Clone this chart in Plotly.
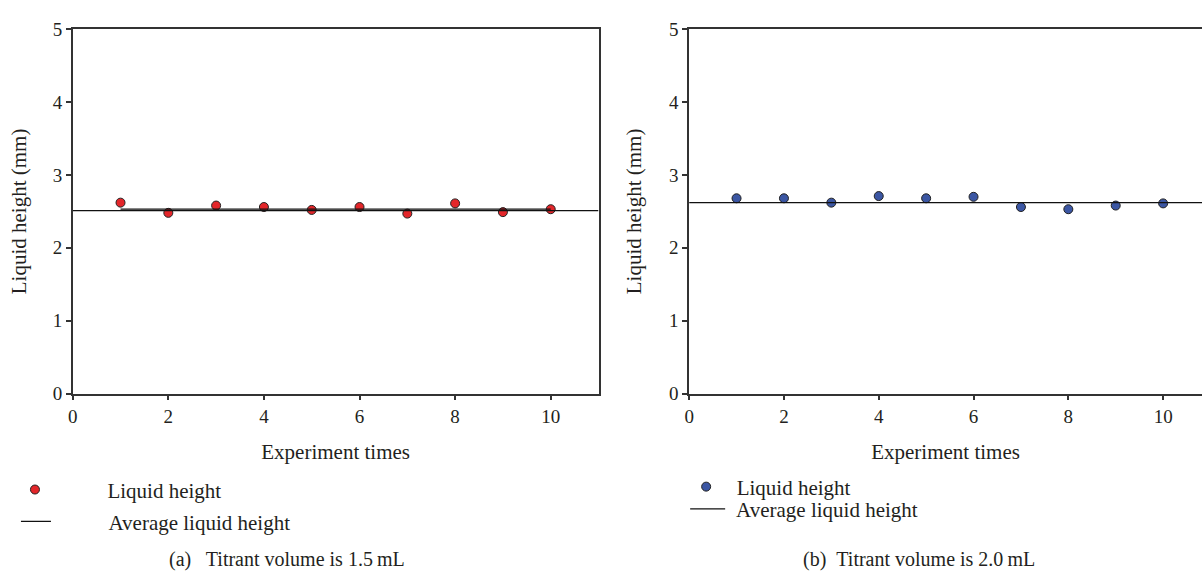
import plotly.graph_objects as go

# Repeated measurements of liquid height for two titrant volumes
trials = [1, 2, 3, 4, 5, 6, 7, 8, 9, 10]
height_15 = [2.62, 2.48, 2.58, 2.56, 2.52, 2.56, 2.47, 2.61, 2.49, 2.53]
height_20 = [2.68, 2.68, 2.62, 2.71, 2.68, 2.70, 2.56, 2.53, 2.58, 2.61]
avg_15 = 2.51
avg_15_fit = 2.53
avg_20 = 2.62

x_range_a = [0, 11]
x_range_b = [0, 10.82]
y_range = [0, 5]
x_ticks = [0, 2, 4, 6, 8, 10]
y_ticks = [0, 1, 2, 3, 4, 5]

series_name = "Liquid height"
average_name = "Average liquid height"
captions = ["(a)\u2002 Titrant volume is 1.5\u2009mL", "(b)\u2002Titrant volume is 2.0\u2009mL"]

FONT = "Liberation Serif"
TXT = "#231f20"
AX = "#333333"
RED = "#e3262a"
BLUE = "#3b56a3"

W, H = 1202, 577


def px(x):
    return x / W


def py(y):
    return 1 - y / H


# text gap between legend symbol and label
PAD_A = "\u2003\u2003\u2002"
PAD_B1 = "\u2002"
PAD_B2 = "\u2009\u200a"

fig = go.Figure()

# panel (a)
fig.add_trace(go.Scatter(
    x=trials, y=height_15, mode="markers", name=PAD_A + series_name,
    marker=dict(color=RED, size=9, line=dict(color="#222222", width=1)),
    xaxis="x", yaxis="y", legend="legend"))
fig.add_trace(go.Scatter(
    x=x_range_a, y=[avg_15, avg_15], mode="lines", name=PAD_A + average_name,
    line=dict(color="#111111", width=1.2),
    xaxis="x", yaxis="y", legend="legend2"))
fig.add_trace(go.Scatter(
    x=[min(trials), max(trials)], y=[avg_15_fit, avg_15_fit], mode="lines",
    line=dict(color="#111111", width=1.2), showlegend=False,
    xaxis="x", yaxis="y"))

# panel (b)
fig.add_trace(go.Scatter(
    x=trials, y=height_20, mode="markers", name=PAD_B1 + series_name,
    marker=dict(color=BLUE, size=9, line=dict(color="#222222", width=1)),
    xaxis="x2", yaxis="y2", legend="legend3"))
fig.add_trace(go.Scatter(
    x=x_range_b, y=[avg_20, avg_20], mode="lines", name=PAD_B2 + average_name,
    line=dict(color="#111111", width=1.2),
    xaxis="x2", yaxis="y2", legend="legend4"))

axis_common = dict(
    showgrid=False, zeroline=False, showline=True, linecolor=AX, linewidth=1.5,
    ticks="outside", ticklen=5, tickwidth=1.5, tickcolor=AX,
    tickfont=dict(family=FONT, size=19, color=TXT),
)
title_font = dict(family=FONT, size=21, color=TXT)
legend_font = dict(family=FONT, size=21, color=TXT)


def legend_at(x, y, itemwidth):
    return dict(x=px(x), y=py(y), xanchor="left", yanchor="middle",
                bgcolor="rgba(0,0,0,0)", itemwidth=itemwidth,
                borderwidth=0, font=legend_font)


fig.update_layout(
    width=W, height=H,
    margin=dict(l=0, r=0, t=0, b=0),
    paper_bgcolor="white", plot_bgcolor="white",
    font=dict(family=FONT, size=19, color=TXT),
    xaxis=dict(domain=[px(68), px(596)], range=x_range_a, tickvals=x_ticks,
               mirror=True, anchor="y",
               title=dict(text="Experiment times", font=title_font, standoff=18),
               **axis_common),
    yaxis=dict(domain=[py(398), py(20)], range=y_range, tickvals=y_ticks,
               mirror=True, anchor="x",
               title=dict(text="Liquid height (mm)", font=title_font, standoff=20),
               **axis_common),
    xaxis2=dict(domain=[px(687), 1.0], range=x_range_b, tickvals=x_ticks,
                mirror=True, anchor="y2",
                title=dict(text="Experiment times", font=title_font, standoff=18),
                **axis_common),
    yaxis2=dict(domain=[py(398), py(20)], range=y_range, tickvals=y_ticks,
                mirror=False, anchor="x2",
                title=dict(text="Liquid height (mm)", font=title_font, standoff=22),
                **axis_common),
    legend=legend_at(10, 498, 30),
    legend2=legend_at(11, 531, 30),
    legend3=legend_at(684, 495, 30),
    legend4=legend_at(683, 518, 35),
    showlegend=True,
)

fig.add_annotation(text=captions[0], x=px(283), y=py(570), xref="paper", yref="paper",
                   xanchor="center", yanchor="middle",
                   showarrow=False, font=dict(family=FONT, size=20, color=TXT))
fig.add_annotation(text=captions[1], x=px(918), y=py(570), xref="paper", yref="paper",
                   xanchor="center", yanchor="middle",
                   showarrow=False, font=dict(family=FONT, size=20, color=TXT))

fig.write_html("out.html")
